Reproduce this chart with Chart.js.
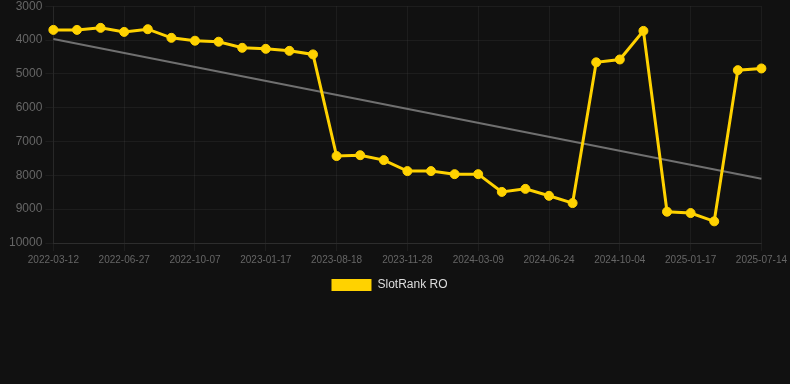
<!DOCTYPE html>
<html>
<head>
<meta charset="utf-8">
<script src="https://cdn.jsdelivr.net/npm/chart.js@4/dist/chart.umd.min.js"></script>
<style>
html,body{margin:0;padding:0;background:#111111;width:790px;height:384px;overflow:hidden;}
#wrap{position:relative;width:790px;height:305px;margin-top:-4px;}
</style>
</head>
<body>
<div id="wrap"><canvas id="c"></canvas></div>
<script>
const categories = [
  "2022-03-12","2022-04-17","2022-05-22","2022-06-27","2022-08-02","2022-09-01",
  "2022-10-07","2022-11-10","2022-12-14","2023-01-17","2023-02-20","2023-03-26",
  "2023-08-18","2023-09-21","2023-10-25","2023-11-28","2024-01-01","2024-02-04",
  "2024-03-09","2024-04-12","2024-05-18","2024-06-24","2024-07-28","2024-08-31",
  "2024-10-04","2024-11-08","2024-12-13","2025-01-17","2025-02-20","2025-05-10",
  "2025-07-14"
];
const rankValues = [
  3700, 3700, 3640, 3760, 3680, 3935,
  4020, 4050, 4230, 4260, 4320, 4425,
  7430, 7405, 7550, 7875, 7875, 7965,
  7965, 8490, 8400, 8605, 8820, 4660,
  4575, 3730, 9075, 9115, 9360, 4890,
  4840
];
const trendStart = 3970;
const trendEnd = 8100;
const trendValues = categories.map((_, i) => i === 0 ? trendStart : (i === categories.length - 1 ? trendEnd : null));
const yTicks = [3000, 4000, 5000, 6000, 7000, 8000, 9000, 10000];

new Chart(document.getElementById('c'), {
  type: 'line',
  data: {
    labels: categories,
    datasets: [
      {
        label: 'SlotRank RO',
        data: rankValues,
        borderColor: '#FFD200',
        backgroundColor: '#FFD200',
        borderWidth: 3,
        pointRadius: 4.5,
        pointBorderWidth: 1,
        pointHoverRadius: 4.5,
        pointBackgroundColor: '#FFD200',
        pointBorderColor: '#FFD200',
        tension: 0,
        order: 1
      },
      {
        label: 'trend',
        data: trendValues,
        borderColor: '#707070',
        backgroundColor: '#707070',
        borderWidth: 2,
        pointRadius: 0,
        spanGaps: true,
        order: 2
      }
    ]
  },
  options: {
    responsive: true,
    maintainAspectRatio: false,
    animation: false,
    layout: { padding: { left: 6, right: 17 } },
    plugins: {
      legend: {
        position: 'bottom',
        labels: {
          color: '#dddddd',
          font: { family: 'Liberation Sans, Arial, sans-serif', size: 12 },
          boxWidth: 40,
          generateLabels: (chart) => {
            const items = Chart.defaults.plugins.legend.labels.generateLabels(chart);
            return items.filter(it => it.text !== 'trend').map(it => Object.assign(it, { lineWidth: 0 }));
          }
        }
      },
      tooltip: { enabled: false }
    },
    scales: {
      x: {
        grid: { color: 'rgba(255,255,255,0.05)', tickColor: 'rgba(255,255,255,0.05)' },
        border: { color: 'rgba(255,255,255,0.08)' },
        ticks: {
          color: '#666666',
          font: { family: 'Liberation Sans, Arial, sans-serif', size: 10 },
          maxRotation: 0,
          autoSkip: true,
          maxTicksLimit: 11
        }
      },
      y: {
        reverse: true,
        min: 3000,
        max: 10000,
        afterBuildTicks: (axis) => { axis.ticks = yTicks.map(v => ({ value: v })); },
        grid: { color: 'rgba(255,255,255,0.05)', tickColor: 'rgba(255,255,255,0.05)' },
        border: { color: 'rgba(255,255,255,0.05)' },
        ticks: {
          color: '#666666',
          font: { family: 'Liberation Sans, Arial, sans-serif', size: 12 },
          callback: (v) => String(v)
        }
      }
    }
  }
});
</script>
</body>
</html>
